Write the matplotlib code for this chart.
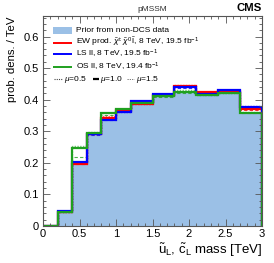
import matplotlib
matplotlib.use("Agg")
import matplotlib.pyplot as plt
from matplotlib.patches import Rectangle
from matplotlib.ticker import MultipleLocator

plt.rcParams['font.family'] = ['Liberation Sans', 'DejaVu Sans']
plt.rcParams['mathtext.fontset'] = 'custom'
plt.rcParams['mathtext.rm'] = 'Liberation Sans'
plt.rcParams['mathtext.it'] = 'Liberation Sans:italic'

# bin edges (TeV) and densities
edges = [0.0, 0.2, 0.4, 0.6, 0.8, 1.0, 1.2, 1.5, 1.8, 2.1, 2.4, 2.7, 3.0]
prior = [0.0, 0.044, 0.194, 0.288, 0.333, 0.357, 0.384, 0.407, 0.421, 0.411, 0.418, 0.356]

ew_mu10 = [0.0, 0.045, 0.196, 0.291, 0.342, 0.367, 0.386, 0.414, 0.444, 0.423, 0.428, 0.372]
ew_mu05 = [0.0, 0.045, 0.198, 0.292, 0.348, 0.370, 0.387, 0.415, 0.446, 0.424, 0.429, 0.374]
ew_mu15 = [0.0, 0.045, 0.195, 0.290, 0.339, 0.364, 0.385, 0.412, 0.440, 0.420, 0.426, 0.368]

ls_mu10 = [0.0, 0.047, 0.202, 0.290, 0.336, 0.361, 0.395, 0.418, 0.440, 0.418, 0.430, 0.378]
ls_mu05 = [0.0, 0.047, 0.203, 0.291, 0.338, 0.362, 0.396, 0.419, 0.442, 0.419, 0.431, 0.379]
ls_mu15 = [0.0, 0.046, 0.200, 0.289, 0.335, 0.360, 0.393, 0.416, 0.436, 0.416, 0.428, 0.370]

os_mu10 = [0.0, 0.044, 0.246, 0.295, 0.357, 0.370, 0.390, 0.411, 0.424, 0.415, 0.421, 0.358]
os_mu05 = [0.0, 0.044, 0.254, 0.298, 0.359, 0.371, 0.391, 0.412, 0.431, 0.416, 0.422, 0.360]
os_mu15 = [0.0, 0.044, 0.217, 0.293, 0.352, 0.368, 0.389, 0.410, 0.422, 0.414, 0.420, 0.357]

W, H = 274, 263
L, R, T, B = 43, 262, 16, 226

fig = plt.figure(figsize=(W / 100, H / 100), dpi=100)
ax = fig.add_axes([L / W, (H - B) / H, (R - L) / W, (B - T) / H])

def fx(px):
    return (px - L) / (R - L)

def fy(py):
    return (B - py) / (B - T)

ax.stairs(prior, edges, fill=True, color='#9bc0e6', lw=0)

series = [
    (ew_mu05, ew_mu10, ew_mu15, '#ff0000'),
    (ls_mu05, ls_mu10, ls_mu15, '#0000ff'),
    (os_mu05, os_mu10, os_mu15, '#1fa01f'),
]
for mu05, mu10, mu15, c in series:
    ax.stairs(mu05, edges, color=c, lw=1.0, ls=(0, (1, 1)), alpha=0.6, baseline=None)
    ax.stairs(mu15, edges, color=c, lw=0.8, ls=(0, (3, 2)), alpha=0.8, baseline=None)
for mu05, mu10, mu15, c in series:
    ax.stairs(mu10, edges, color=c, lw=1.6)

ax.set_xlim(0, 3)
ax.set_ylim(0, 0.665)
ax.xaxis.set_minor_locator(MultipleLocator(0.1))
ax.yaxis.set_minor_locator(MultipleLocator(0.02))
ax.set_xticks([0, 0.5, 1, 1.5, 2, 2.5, 3])
ax.set_xticklabels(['0', '0.5', '1', '1.5', '2', '2.5', '3'])
ax.set_yticks([0, 0.1, 0.2, 0.3, 0.4, 0.5, 0.6])
ax.set_yticklabels(['0', '0.1', '0.2', '0.3', '0.4', '0.5', '0.6'])
ax.tick_params(which='both', direction='in', top=True, right=True,
               labelsize=8, color='#555555', pad=3)
ax.tick_params(axis='x', pad=2)
ax.tick_params(which='major', length=5, width=0.6)
ax.tick_params(which='minor', length=2.5, width=0.6)
for s in ax.spines.values():
    s.set_color('#555555')
    s.set_linewidth(0.8)

ax.text(fx(12), 1.0, 'prob. dens. / TeV', transform=ax.transAxes, rotation=90,
        ha='center', va='top', fontsize=8.2)
ax.text(1.0, fy(254),
        r'$\tilde{\mathrm{u}}_{\mathrm{L}}$, $\tilde{\mathrm{c}}_{\mathrm{L}}$ mass [TeV]',
        transform=ax.transAxes, ha='right', va='baseline', fontsize=9.5)

ax.text(0.5, 1.012, 'pMSSM', transform=ax.transAxes, ha='center', va='bottom',
        fontsize=6, color='#333333')
ax.text(1.0, 1.012, 'CMS', transform=ax.transAxes, ha='right', va='bottom',
        fontsize=8.2, fontweight='bold')

# legend drawn by hand to follow the ROOT layout
ax.add_patch(Rectangle((fx(53), fy(33.5)), fx(72) - fx(53), fy(26.5) - fy(33.5),
                       transform=ax.transAxes, facecolor='#9bc0e6', edgecolor='none'))
labels = [
    'Prior from non-DCS data',
    r'EW prod. $\tilde{\chi}^{\pm}\,\tilde{\chi}^{0}\,\tilde{\mathrm{l}}$, 8 TeV, 19.5 fb$^{-1}$',
    r'LS ll, 8 TeV, 19.5 fb$^{-1}$',
    r'OS ll, 8 TeV, 19.4 fb$^{-1}$',
]
rows = [30, 42.7, 54.3, 66.7]
colors = [None, '#ff0000', '#0000ff', '#1fa01f']
for lab, row, c in zip(labels, rows, colors):
    if c is not None:
        ax.plot([fx(53), fx(72)], [fy(row), fy(row)], color=c, lw=1.4,
                transform=ax.transAxes, solid_capstyle='butt')
    ax.text(fx(76), fy(row), lab, transform=ax.transAxes, ha='left', va='center',
            fontsize=6)

mu_row = 79.3
mu_items = [
    (54, 62, r'$\mu$=0.5', dict(color='#444444', lw=0.8, ls=(0, (1, 1)))),
    (93, 99, r'$\mu$=1.0', dict(color='black', lw=1.6)),
    (127, 134, r'$\mu$=1.5', dict(color='#666666', lw=0.6, ls=(0, (1.5, 1.2)))),
]
for x0, x1, lab, st in mu_items:
    ax.plot([fx(x0), fx(x1)], [fy(mu_row), fy(mu_row)], transform=ax.transAxes,
            solid_capstyle='butt', **st)
    ax.text(fx(x1 + 1.5), fy(mu_row), lab, transform=ax.transAxes, ha='left',
            va='center', fontsize=6)

fig.savefig('out.png', dpi=100)
